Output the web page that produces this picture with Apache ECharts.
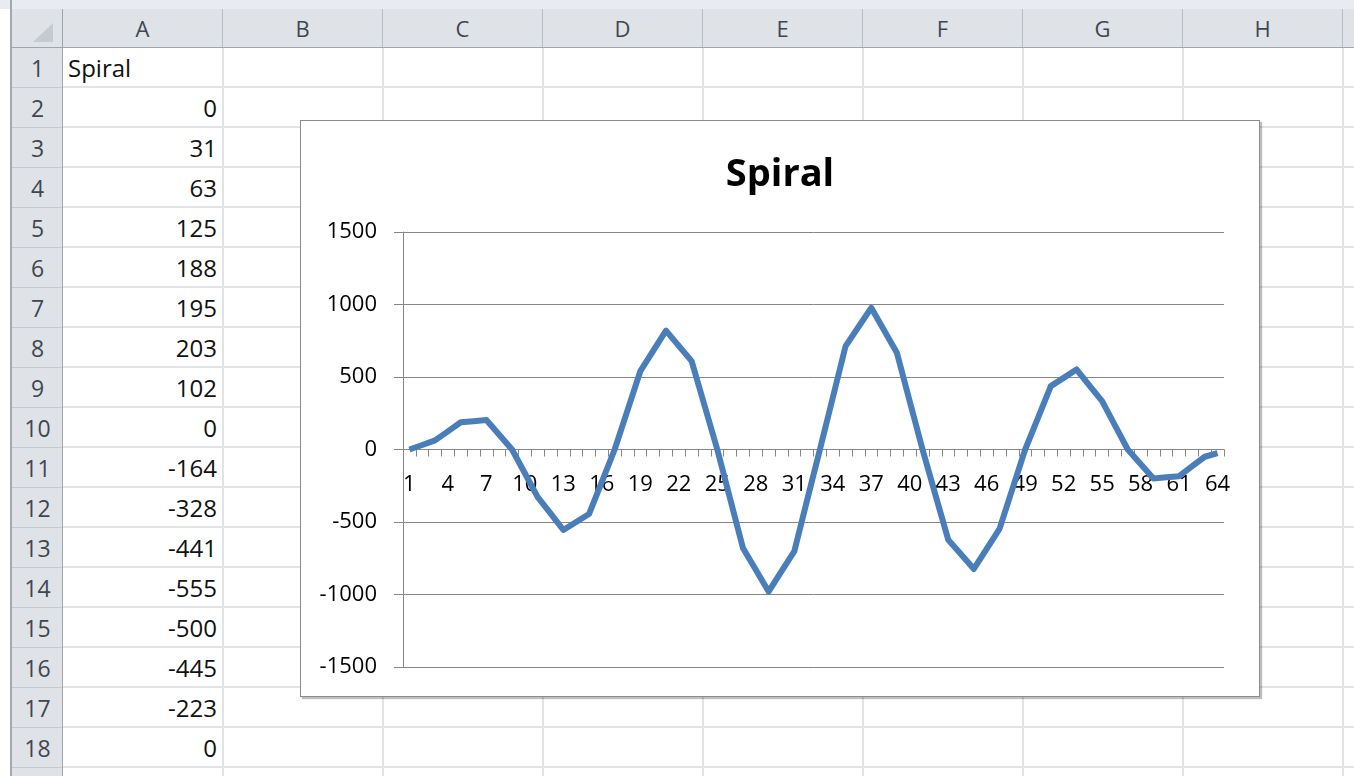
<!DOCTYPE html>
<html>
<head>
<meta charset="utf-8">
<script src="https://cdn.jsdelivr.net/npm/echarts/dist/echarts.min.js"></script>
<style>
html, body { margin: 0; padding: 0; background: #fff; }
#sheet { position: relative; width: 1354px; height: 776px; overflow: hidden; font-family: "Open Sans", sans-serif; }
.abs { position: absolute; box-sizing: border-box; }
.colhd { background: #dfe3e8; color: #3f4650; font-size: 22px; text-align: center; line-height: 39px; border-right: 1px solid #b7bdc6; }
.rowhd { background: #dfe3e8; color: #3f4650; font-size: 23px; text-align: center; line-height: 40px; border-bottom: 1px solid #c4c9d0; }
.cell { font-size: 24px; color: #111; line-height: 40px; white-space: nowrap; }
#chartBox { position: absolute; left: 300px; top: 120px; width: 960px; height: 577px; border: 1px solid #8c8c8c; box-shadow: 2px 2px 1px rgba(0,0,0,0.25); background: #fff; box-sizing: border-box; }
#chart { width: 958px; height: 575px; }
</style>
</head>
<body>
<div id="sheet">
  <div id="chartBox"><div id="chart"></div></div>
</div>
<script>
// sheet layout
const columns = ['A', 'B', 'C', 'D', 'E', 'F', 'G', 'H', 'I']
const rowCount = 19
const seriesName = 'Spiral'

// values of the Spiral column (rows 2..65)
const spiral = [
  0, 31, 63, 125, 188, 195, 203, 102,
  0, -164, -328, -441, -555, -500, -445, -223,
  0, 270, 540, 680, 820, 715, 609, 305,
  0, -340, -680, -830, -980, -840, -703, -350,
  0, 356, 713, 845, 977, 822, 667, 333,
  0, -311, -622, -723, -824, -685, -547, -273,
  0, 218, 437, 494, 552, 442, 333, 166,
  0, -100, -200, -192, -184, -117, -50, -25
]
const categories = spiral.map((v, i) => String(i + 1))
const yTicks = [-1500, -1000, -500, 0, 500, 1000, 1500]

const sheet = document.getElementById('sheet')
function box(cls, css, text) {
  const d = document.createElement('div')
  d.className = 'abs ' + cls
  d.style.cssText = css
  if (text !== undefined) d.textContent = text
  sheet.insertBefore(d, document.getElementById('chartBox'))
  return d
}

const colLeft = 63, colW = 160, hdTop = 9, hdH = 39, rowH = 40
// top strip and left edge
box('', 'left:0;top:0;width:1354px;height:9px;background:#e8ebf1;')
box('', 'left:10px;top:0;width:2px;height:776px;background:#a3a8b0;')
// corner
box('', 'left:12px;top:9px;width:51px;height:39px;background:#dfe3e8;border-right:1px solid #b7bdc6;')
box('', 'left:33px;top:23px;width:20px;height:19px;background:#c5cad0;clip-path:polygon(100% 0,100% 100%,0 100%);')
// column headers
columns.forEach((c, i) => {
  box('colhd', `left:${colLeft + i * colW}px;top:${hdTop}px;width:${colW}px;height:${hdH}px;`, c)
})
box('', `left:12px;top:${hdTop + hdH - 1}px;width:1342px;height:1px;background:#9ea5ae;`)
// row headers and grid lines
for (let r = 1; r <= rowCount; r++) {
  const top = hdTop + hdH + (r - 1) * rowH
  box('rowhd', `left:12px;top:${top}px;width:51px;height:${rowH}px;`, r)
  box('', `left:${colLeft}px;top:${top + rowH - 2}px;width:1300px;height:2px;background:#e2e3e5;`)
}
box('', `left:62px;top:${hdTop}px;width:1px;height:776px;background:#9ea5ae;`)
columns.forEach((c, i) => {
  box('', `left:${colLeft + (i + 1) * colW - 1}px;top:${hdTop + hdH}px;width:2px;height:776px;background:#e2e3e5;`)
})
// column A contents
box('cell', `left:${colLeft + 5}px;top:${hdTop + hdH}px;width:150px;height:${rowH}px;`, seriesName)
for (let r = 2; r <= rowCount - 1; r++) {
  const top = hdTop + hdH + (r - 1) * rowH
  box('cell', `left:${colLeft}px;top:${top}px;width:${colW - 6}px;height:${rowH}px;text-align:right;`, spiral[r - 2])
}

// chart
const mychart = echarts.init(document.getElementById('chart'))
const axisGray = '#868686'
const gridTop = 111, gridBottom = 29, chartH = 575
// distance from the grid bottom up to the zero line (symmetric y range)
const zeroOffset = (chartH - gridTop - gridBottom) / 2

const option = {
  animation: false,
  title: {
    text: seriesName,
    left: 'center',
    top: 30,
    textStyle: { fontFamily: 'Open Sans', fontWeight: 'bold', fontSize: 38, color: '#000' }
  },
  grid: { left: 102, right: 35, top: gridTop, bottom: gridBottom, containLabel: false, outerBoundsMode: 'none' },
  xAxis: [{
    type: 'category',
    data: categories,
    boundaryGap: true,
    axisLine: { onZero: true, lineStyle: { color: axisGray, width: 1 } },
    axisTick: { show: true, interval: 0, length: 7, lineStyle: { color: axisGray } },
    axisLabel: { show: false },
    splitLine: { show: false }
  }, {
    // label row that sits just under the zero line, like the original
    type: 'category',
    data: categories,
    position: 'bottom',
    offset: -zeroOffset,
    boundaryGap: true,
    axisLine: { show: false, onZero: false },
    axisTick: { show: false },
    axisLabel: { interval: 2, margin: 24, fontFamily: 'Open Sans', fontSize: 22, color: '#000' },
    splitLine: { show: false }
  }],
  yAxis: {
    type: 'value',
    min: yTicks[0],
    max: yTicks[yTicks.length - 1],
    interval: 500,
    axisLine: { show: true, lineStyle: { color: axisGray, width: 1 } },
    axisTick: { show: true, length: 9, lineStyle: { color: axisGray } },
    axisLabel: { margin: 26, fontFamily: 'Open Sans', fontSize: 22, color: '#000', formatter: v => String(v) },
    splitLine: { show: true, lineStyle: { color: axisGray, width: 1 } }
  },
  series: [{
    name: seriesName,
    type: 'line',
    data: spiral,
    symbol: 'none',
    lineStyle: { color: '#4a7ebb', width: 6, join: 'round' },
    itemStyle: { color: '#4a7ebb' }
  }]
}
mychart.setOption(option, true)
</script>
</body>
</html>
